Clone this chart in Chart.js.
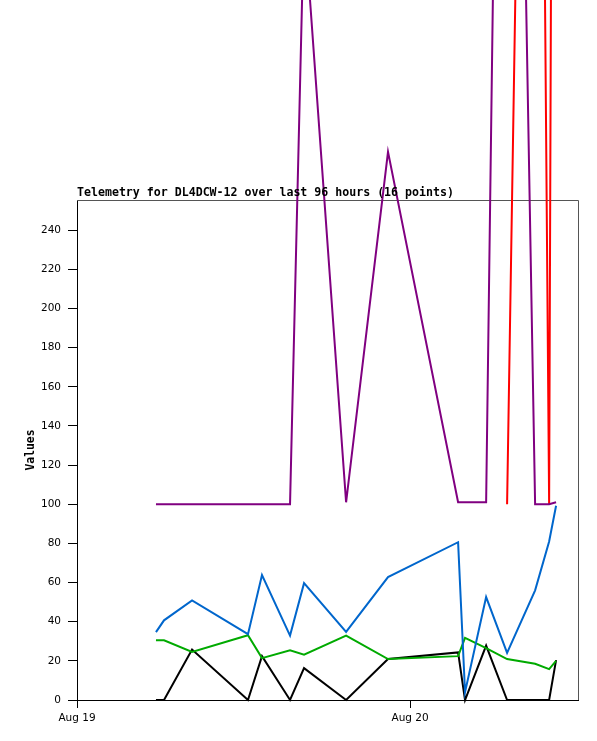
<!DOCTYPE html>
<html>
<head>
<meta charset="utf-8">
<script src="https://cdn.jsdelivr.net/npm/chart.js@4"></script>
<style>
  html, body { margin: 0; padding: 0; background: #ffffff; }
  #wrap { width: 597px; height: 741px; }
</style>
</head>
<body>
<div id="wrap"><canvas id="telemetryChart" width="597" height="741"></canvas></div>
<script>
// hours since Aug 19 00:00 for each of the 16 packets
const hours = [5.69, 6.27, 8.29, 12.32, 13.33, 15.35, 16.36, 19.39, 22.41, 27.46, 27.96, 29.48, 30.99, 33.01, 34.02, 34.52];

const chan1 = [100, 100, 100, 100, 100, 100, 400, 101, 280, 101, 101, 101, 900, 100, 100, 101];   // purple
const chan2 = [null, null, null, null, null, null, null, null, null, null, null, null, 100, 980, 100, 1100]; // red
const chan3 = [34.7, 40.7, 50.9, 33.6, 63.8, 32.9, 59.7, 34.8, 62.8, 80.6, 4, 52.6, 24.1, 56, 81, 99.2]; // blue
const chan4 = [30.5, 30.5, 24.6, 33.1, 21.4, 25.4, 23.2, 32.9, 20.9, 22.4, 31.7, 26.5, 20.9, 18.5, 15.8, 20]; // green
const chan5 = [0, 0, 25.8, 0, 22.4, 0, 16.3, 0, 20.9, 24.3, 0, 27.8, 0, 0, 0, 20.4]; // black

const xTickHours = [0, 24];
const xTickLabels = ['Aug 19', 'Aug 20'];

const titleText = 'Telemetry for DL4DCW-12 over last 96 hours (16 points)';

function toPoints(vals) {
    return vals.map(function (v, i) { return { x: hours[i], y: v }; });
}

function lineSet(vals, color) {
    return {
        data: toPoints(vals),
        borderColor: color,
        borderWidth: 2,
        pointRadius: 0,
        tension: 0,
        fill: false,
        clip: false
    };
}

// gray frame on top/right and the title left-aligned to the plot
const framePlugin = {
    id: 'frame',
    beforeDatasetsDraw(chart) {
        const a = chart.chartArea;
        const ctx = chart.ctx;
        ctx.save();
        ctx.strokeStyle = '#555555';
        ctx.lineWidth = 1;
        ctx.beginPath();
        ctx.moveTo(a.left, a.top + 0.5);
        ctx.lineTo(a.right + 0.5, a.top + 0.5);
        ctx.lineTo(a.right + 0.5, a.bottom);
        ctx.stroke();
        ctx.restore();
    },
    afterDatasetsDraw(chart) {
        const a = chart.chartArea;
        const ctx = chart.ctx;
        ctx.save();
        ctx.fillStyle = '#000000';
        ctx.font = 'bold 11.6px "DejaVu Sans Mono"';
        ctx.textBaseline = 'alphabetic';
        ctx.textAlign = 'left';
        ctx.fillText(titleText, a.left, a.top - 4);
        ctx.restore();
    }
};

new Chart(document.getElementById('telemetryChart'), {
    type: 'line',
    data: {
        datasets: [
            lineSet(chan1, '#800080'),
            lineSet(chan2, '#ff0000'),
            lineSet(chan3, '#0066cc'),
            lineSet(chan4, '#00aa00'),
            lineSet(chan5, '#000000')
        ]
    },
    options: {
        responsive: false,
        animation: false,
        devicePixelRatio: 1,
        layout: {
            padding: { top: 200, right: 19, left: 0, bottom: 0 }
        },
        plugins: {
            legend: { display: false },
            title: { display: false },
            tooltip: { enabled: false }
        },
        scales: {
            x: {
                type: 'linear',
                min: 0,
                max: 36.1,
                afterFit: function (scale) { scale.height = 41; },
                afterBuildTicks: function (scale) {
                    scale.ticks = xTickHours.map(function (h) { return { value: h }; });
                },
                grid: {
                    drawOnChartArea: false,
                    tickLength: 8,
                    tickColor: '#000000'
                },
                border: { color: '#000000', width: 1 },
                ticks: {
                    color: '#000000',
                    padding: 4,
                    maxRotation: 0,
                    font: { family: 'DejaVu Sans', size: 10.5 },
                    callback: function (value) {
                        const i = xTickHours.indexOf(value);
                        return i >= 0 ? xTickLabels[i] : '';
                    }
                }
            },
            y: {
                min: 0,
                max: 255.4,
                afterFit: function (scale) { scale.width = 77; },
                grid: {
                    drawOnChartArea: false,
                    tickLength: 9,
                    tickColor: '#000000'
                },
                border: { color: '#000000', width: 1 },
                ticks: {
                    stepSize: 20,
                    includeBounds: false,
                    color: '#000000',
                    padding: 7,
                    font: { family: 'DejaVu Sans', size: 10.5 }
                },
                title: {
                    display: true,
                    text: 'Values',
                    color: '#000000',
                    padding: { top: 24, bottom: 0 },
                    font: { family: 'DejaVu Sans Mono', size: 11.4, weight: 'bold' }
                }
            }
        }
    },
    plugins: [framePlugin]
});
</script>
</body>
</html>
